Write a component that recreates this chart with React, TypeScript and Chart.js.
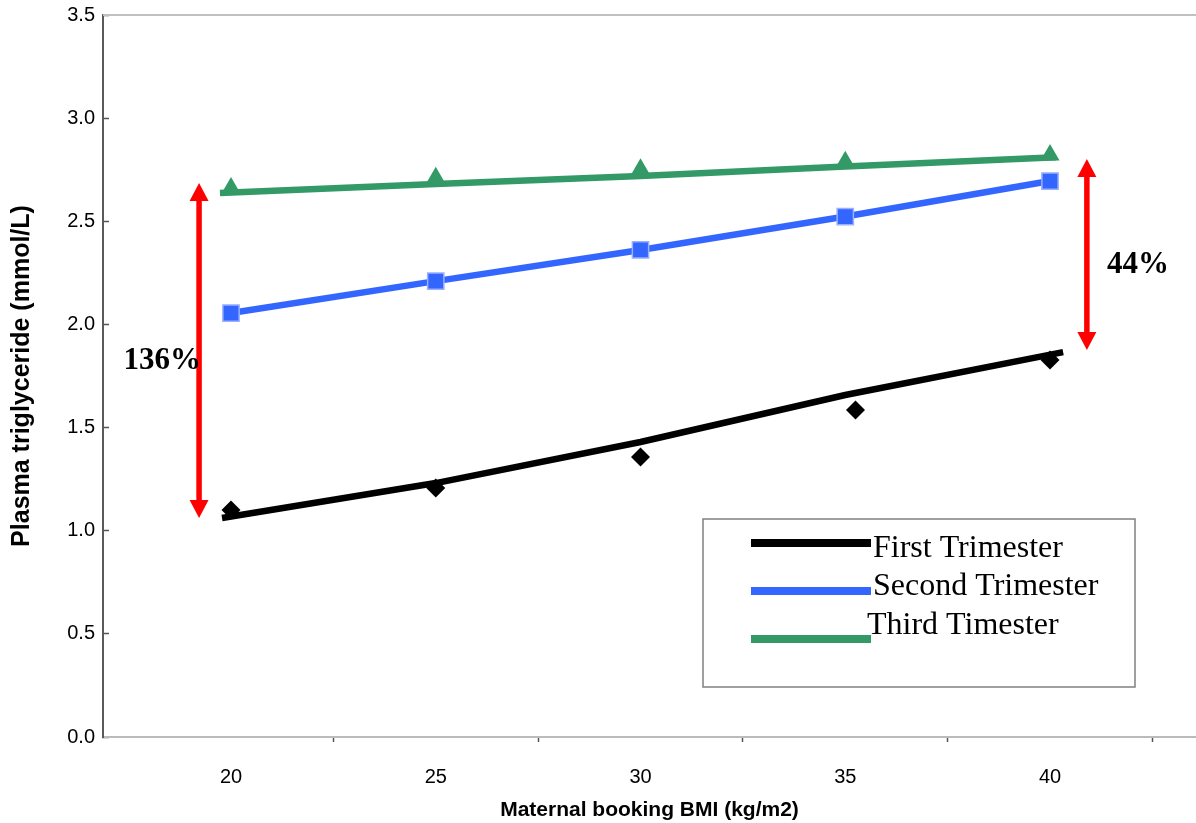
import React, { useEffect, useRef } from 'react';
import { Chart, registerables } from 'chart.js';

Chart.register(...registerables);

// ---- data ----
const bmiTicks = [20, 25, 30, 35, 40];
const bmiSecondThird = [20, 25, 30, 35, 40];
const bmiFirst = [20, 25, 30, 35.25, 40];
const firstTrimester = [1.1, 1.207, 1.357, 1.585, 1.827];
const secondTrimester = [2.055, 2.21, 2.361, 2.523, 2.695];
const thirdTrimester = [2.661, 2.711, 2.752, 2.789, 2.821];
const firstTrendX = [19.78, 25, 30, 35, 40.32];
const firstTrendY = [1.062, 1.231, 1.43, 1.658, 1.866];
const thirdTrendX = [19.73, 25, 30, 35, 40.15];
const thirdTrendY = [2.637, 2.681, 2.719, 2.766, 2.811];
const seriesLabels = ['First Trimester', 'Second Trimester', 'Third Timester'];
const seriesColors = ['#000000', '#3366ff', '#339966'];
const arrowX = [19.22, 40.9];
const arrowLow = [1.062, 1.876];
const arrowHigh = [2.685, 2.802];
const arrowText = ['136%', '44%'];
const arrowTextX = [18.32, 42.15];
const arrowTextY = [1.784, 2.249];

const toXY = (xs: number[], ys: number[]) => xs.map((x, i) => ({ x, y: ys[i] }));

const decorPlugin = {
  id: 'decor',
  afterDatasetsDraw(chart: any) {
    const { ctx, chartArea } = chart;
    const xs = chart.scales.x;
    const ys = chart.scales.y;
    ctx.save();
    // top frame line
    ctx.strokeStyle = '#c0c0c0';
    ctx.lineWidth = 2;
    ctx.beginPath();
    ctx.moveTo(chartArea.left, chartArea.top);
    ctx.lineTo(chartArea.right, chartArea.top);
    ctx.stroke();

    // red double arrows with percentage labels
    arrowX.forEach((ax, i) => {
      const px = xs.getPixelForValue(ax);
      const top = ys.getPixelForValue(arrowHigh[i]);
      const bot = ys.getPixelForValue(arrowLow[i]);
      const hl = 18;
      const hw = 9.5;
      ctx.strokeStyle = '#ff0000';
      ctx.fillStyle = '#ff0000';
      ctx.lineWidth = 5.5;
      ctx.beginPath();
      ctx.moveTo(px, top + hl - 1);
      ctx.lineTo(px, bot - hl + 1);
      ctx.stroke();
      ctx.beginPath();
      ctx.moveTo(px, top);
      ctx.lineTo(px - hw, top + hl);
      ctx.lineTo(px + hw, top + hl);
      ctx.closePath();
      ctx.fill();
      ctx.beginPath();
      ctx.moveTo(px, bot);
      ctx.lineTo(px - hw, bot - hl);
      ctx.lineTo(px + hw, bot - hl);
      ctx.closePath();
      ctx.fill();
      ctx.fillStyle = '#000000';
      ctx.font = 'bold 31px "Liberation Serif"';
      ctx.textAlign = 'center';
      ctx.textBaseline = 'alphabetic';
      ctx.fillText(arrowText[i], xs.getPixelForValue(arrowTextX[i]), ys.getPixelForValue(arrowTextY[i]));
    });

    // legend box
    const box = { left: 703, top: 519, right: 1135, bottom: 687 };
    ctx.strokeStyle = '#808080';
    ctx.lineWidth = 1.5;
    ctx.strokeRect(box.left, box.top, box.right - box.left, box.bottom - box.top);
    const lineYs = [24, 72, 120];
    const textYs = [38, 76, 115];
    const textXs = [873, 873, 867];
    ctx.font = '32px "Liberation Serif"';
    ctx.textAlign = 'left';
    ctx.textBaseline = 'alphabetic';
    seriesLabels.forEach((lab, i) => {
      ctx.strokeStyle = seriesColors[i];
      ctx.lineWidth = 8;
      ctx.beginPath();
      ctx.moveTo(751, box.top + lineYs[i]);
      ctx.lineTo(871, box.top + lineYs[i]);
      ctx.stroke();
      ctx.fillStyle = '#000000';
      ctx.fillText(lab, textXs[i], box.top + textYs[i]);
    });
    ctx.restore();
  },
};

export default function App() {
  const ref = useRef<HTMLCanvasElement | null>(null);
  useEffect(() => {
    if (!ref.current) return;
    const chart = new Chart(ref.current, {
      type: 'line',
      data: {
        datasets: [
          {
            label: 'first-points',
            data: toXY(bmiFirst, firstTrimester),
            showLine: false,
            pointStyle: 'rectRot',
            pointRadius: 9.5,
            pointBackgroundColor: seriesColors[0],
            pointBorderColor: seriesColors[0],
            pointBorderWidth: 0,
          },
          {
            label: 'third-points',
            data: toXY(bmiSecondThird, thirdTrimester),
            showLine: false,
            pointStyle: 'triangle',
            pointRadius: 11,
            pointBackgroundColor: seriesColors[2],
            pointBorderColor: seriesColors[2],
            pointBorderWidth: 0,
          },
          {
            label: seriesLabels[1],
            data: toXY(bmiSecondThird, secondTrimester),
            borderColor: seriesColors[1],
            borderWidth: 6.5,
            pointStyle: 'rect',
            pointRadius: 11.5,
            pointBackgroundColor: seriesColors[1],
            pointBorderColor: '#9ab0ff',
            pointBorderWidth: 1.5,
          },
          {
            label: seriesLabels[0],
            data: toXY(firstTrendX, firstTrendY),
            borderColor: seriesColors[0],
            borderWidth: 6.5,
            pointRadius: 0,
          },
          {
            label: seriesLabels[2],
            data: toXY(thirdTrendX, thirdTrendY),
            borderColor: seriesColors[2],
            borderWidth: 6.5,
            pointRadius: 0,
          },
        ],
      },
      options: {
        animation: false,
        responsive: false,
        layout: { autoPadding: false, padding: { top: 15, left: 0, right: 0, bottom: 0 } },
        plugins: {
          legend: { display: false },
          tooltip: { enabled: false },
        },
        scales: {
          x: {
            type: 'linear',
            min: 16.874,
            max: 43.565,
            afterBuildTicks: (scale: any) => {
              scale.ticks = bmiTicks.map((v) => ({ value: v }));
            },
            afterFit: (scale: any) => {
              scale.height = 86;
              scale.paddingLeft = 0;
              scale.paddingRight = 0;
            },
            ticks: {
              color: '#000000',
              font: { family: '"Liberation Sans"', size: 20 },
              padding: 23,
              maxRotation: 0,
              callback: (v: any) => String(v),
            },
            grid: {
              display: true,
              drawOnChartArea: false,
              drawTicks: true,
              offset: true,
              tickLength: 5,
              tickWidth: 1.5,
              tickColor: (c: any) => (c.index === 0 ? 'rgba(0,0,0,0)' : '#555555'),
            },
            border: { display: true, color: '#bbbbbb', width: 2 },
            title: {
              display: true,
              text: 'Maternal booking BMI (kg/m2)',
              color: '#000000',
              font: { family: '"Liberation Sans"', size: 21, weight: 'bold' },
              padding: { top: 0, bottom: 0 },
            },
          },
          y: {
            type: 'linear',
            min: 0,
            max: 3.5,
            afterFit: (scale: any) => {
              scale.width = 103;
              scale.paddingTop = 0;
              scale.paddingBottom = 0;
            },
            ticks: {
              stepSize: 0.5,
              color: '#000000',
              font: { family: '"Liberation Sans"', size: 20 },
              padding: 14,
              callback: (v: any) => Number(v).toFixed(1),
            },
            grid: {
              display: true,
              drawOnChartArea: false,
              drawTicks: true,
              tickLength: -6,
              tickWidth: 1.5,
              tickColor: '#555555',
            },
            border: { display: true, color: '#595959', width: 2 },
            title: {
              display: true,
              text: 'Plasma triglyceride (mmol/L)',
              color: '#000000',
              font: { family: '"Liberation Sans"', size: 25, weight: 'bold' },
              padding: { top: 7, bottom: 0 },
            },
          },
        },
      },
      plugins: [decorPlugin],
    } as any);
    return () => chart.destroy();
  }, []);
  return (
    <div style={{ position: 'absolute', left: 0, top: 0, width: 1196, height: 823, background: '#ffffff' }}>
      <canvas ref={ref} width={1196} height={823} style={{ display: 'block' }} />
    </div>
  );
}
